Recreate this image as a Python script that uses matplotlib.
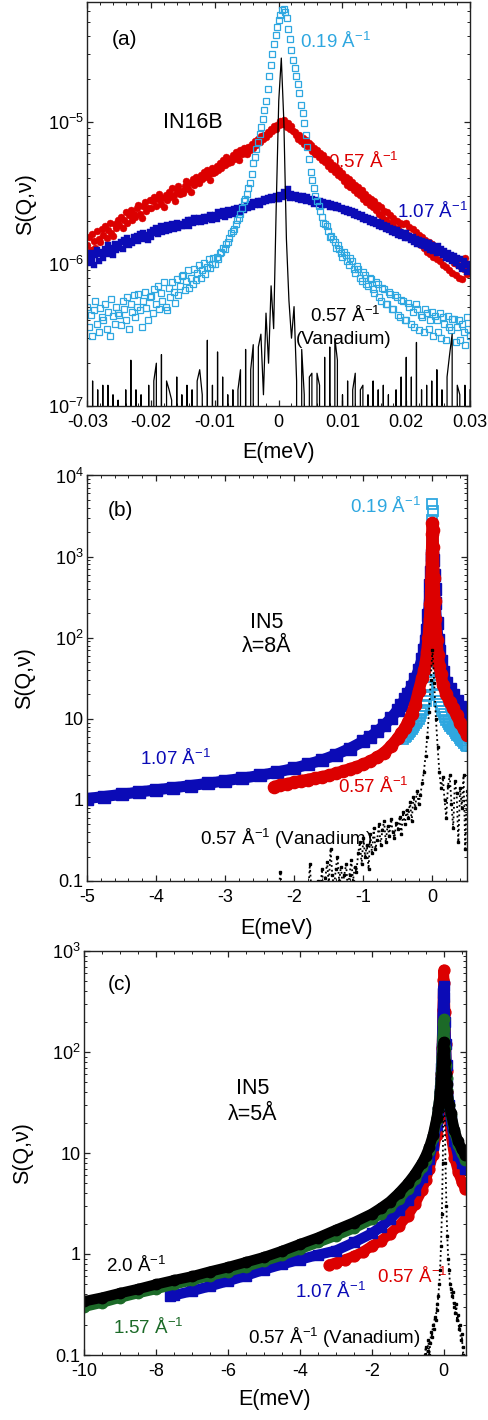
import numpy as np
import matplotlib
matplotlib.use("Agg")
import matplotlib.pyplot as plt
from matplotlib.ticker import MultipleLocator, LogLocator, FuncFormatter, NullFormatter

plt.rcParams['font.family'] = ['Liberation Sans', 'DejaVu Sans']
plt.rcParams['mathtext.fontset'] = 'custom'
plt.rcParams['mathtext.rm'] = 'Liberation Sans'
plt.rcParams['mathtext.it'] = 'Liberation Sans:italic'
plt.rcParams['mathtext.bf'] = 'Liberation Sans:bold'
plt.rcParams['axes.unicode_minus'] = False

# ---------------- (a) IN16B, S(Q,nu) in units of 1e-6 ----------------
E_a = np.linspace(-0.03, 0.03, 241)          # energy channels (meV)
E_a_van = np.linspace(-0.03, 0.03, 151)      # vanadium channels (meV)

a_q019 = [0.50, 0.36, 0.44, 0.31, 0.47, 0.55, 0.38, 0.33, 0.49, 0.42,
          0.40, 0.52, 0.35, 0.46, 0.31, 0.57, 0.43, 0.38, 0.50, 0.45,
          0.44, 0.37, 0.55, 0.48, 0.40, 0.58, 0.35, 0.52, 0.46, 0.60,
          0.42, 0.50, 0.61, 0.47, 0.36, 0.55, 0.63, 0.49, 0.40, 0.58,
          0.59, 0.45, 0.66, 0.52, 0.70, 0.48, 0.62, 0.55, 0.74, 0.50,
          0.47, 0.68, 0.58, 0.75, 0.63, 0.53, 0.78, 0.60, 0.70, 0.82,
          0.84, 0.65, 0.76, 0.90, 0.68, 0.80, 0.72, 0.92, 0.77, 0.86,
          0.98, 0.80, 0.90, 1.02, 0.85, 0.95, 1.08, 0.93, 1.00, 1.10,
          1.00, 1.12, 1.08, 1.20, 1.22, 1.30, 1.28, 1.38, 1.42, 1.52,
          1.65, 1.70, 1.76, 1.90, 2.05, 2.10, 2.25, 2.45, 2.75, 2.85,
          3.1, 3.4, 3.7, 4.3, 5.1, 5.6, 6.4, 7.2, 8.2, 9.2,
          10.5, 12, 14, 17, 21, 25, 30, 35, 41, 46,
          52, 56, 61, 62, 59, 54, 45, 38, 32, 27,
          24, 21, 18.5, 16, 13, 11.5, 9.8, 8, 6.6, 5.5,
          4.4, 3.9, 3.4, 3.0, 2.75, 2.55, 2.35, 2.15, 1.95, 1.90,
          1.85, 1.70, 1.55, 1.58, 1.50, 1.42, 1.30, 1.36, 1.28, 1.20,
          1.12, 1.22, 1.15, 1.05, 0.98, 1.10, 1.05, 0.92, 0.86, 0.97,
          0.92, 0.80, 0.76, 0.88, 0.84, 0.72, 0.70, 0.80, 0.78, 0.66,
          0.62, 0.74, 0.72, 0.58, 0.55, 0.68, 0.66, 0.52, 0.52, 0.63,
          0.61, 0.48, 0.48, 0.60, 0.58, 0.44, 0.42, 0.56, 0.55, 0.40,
          0.40, 0.53, 0.50, 0.38, 0.46, 0.36, 0.52, 0.48, 0.34, 0.44,
          0.42, 0.33, 0.48, 0.45, 0.35, 0.40, 0.46, 0.31, 0.43, 0.40,
          0.33, 0.45, 0.30, 0.42, 0.38, 0.29, 0.43, 0.36, 0.34, 0.41,
          0.41, 0.28, 0.36, 0.40, 0.29, 0.38, 0.33, 0.27, 0.42, 0.35,
          0.31]

a_q057 = [1.35, 1.55, 1.25, 1.62, 1.45, 1.30, 1.70, 1.50, 1.42, 1.75,
          1.60, 1.85, 1.52, 1.72, 1.95, 1.65, 1.58, 1.90, 1.78, 2.05,
          1.88, 2.15, 1.80, 2.05, 2.30, 1.95, 2.20, 2.40, 2.02, 2.25,
          2.15, 2.45, 2.60, 2.25, 2.10, 2.55, 2.70, 2.35, 2.48, 2.80,
          2.45, 2.75, 2.95, 2.55, 2.85, 3.10, 2.65, 2.90, 2.50, 3.05,
          2.80, 3.20, 2.95, 3.40, 3.05, 2.75, 3.30, 3.50, 3.10, 3.25,
          3.15, 3.55, 3.85, 3.35, 3.70, 3.20, 3.95, 3.60, 4.10, 3.75,
          3.70, 4.20, 3.95, 4.45, 4.05, 4.60, 4.25, 3.90, 4.70, 4.35,
          4.40, 4.90, 4.60, 5.15, 4.75, 5.40, 4.95, 5.60, 5.10, 5.45,
          5.20, 5.80, 5.45, 6.10, 5.65, 5.40, 6.30, 5.90, 6.55, 6.05,
          5.90, 6.60, 6.35, 7.00, 6.55, 7.30, 6.90, 7.60, 7.20, 7.95,
          7.50, 8.10, 7.80, 8.50, 8.20, 8.90, 8.60, 9.30, 8.90, 9.50,
          9.40, 10.1, 9.70, 10.3, 9.60, 9.20, 9.80, 8.90, 9.30, 8.60,
          8.40, 8.00, 7.60, 8.10, 7.30, 7.70, 7.00, 7.40, 6.70, 7.10,
          6.80, 6.20, 6.50, 5.90, 6.30, 5.60, 6.00, 5.40, 5.80, 5.20,
          5.50, 4.90, 5.20, 4.65, 4.95, 4.40, 4.80, 4.20, 4.55, 4.10,
          4.35, 3.85, 4.10, 3.60, 3.95, 3.45, 3.75, 3.30, 3.60, 3.15,
          3.45, 3.05, 3.30, 2.85, 3.10, 2.70, 2.95, 2.60, 2.85, 2.50,
          2.75, 2.40, 2.60, 2.25, 2.50, 2.15, 2.35, 2.05, 2.30, 1.95,
          2.20, 1.90, 2.10, 1.80, 2.00, 1.75, 1.95, 1.68, 1.90, 1.62,
          1.95, 1.60, 1.82, 1.52, 1.75, 1.45, 1.68, 1.40, 1.60, 1.35,
          1.55, 1.30, 1.48, 1.22, 1.42, 1.18, 1.38, 1.12, 1.32, 1.08,
          1.28, 1.05, 1.22, 0.98, 1.18, 0.95, 1.12, 0.90, 1.08, 0.86,
          1.02, 0.84, 1.00, 0.80, 0.96, 0.78, 0.92, 1.10, 0.85, 0.95,
          0.88]

a_q107 = [1.12, 1.02, 1.20, 1.08, 0.98, 1.15, 1.25, 1.05, 1.18, 1.22,
          1.10, 1.28, 1.18, 1.35, 1.20, 1.30, 1.15, 1.38, 1.25, 1.32,
          1.30, 1.42, 1.28, 1.48, 1.38, 1.52, 1.35, 1.45, 1.40, 1.55,
          1.46, 1.58, 1.44, 1.62, 1.50, 1.66, 1.52, 1.60, 1.48, 1.68,
          1.55, 1.72, 1.66, 1.80, 1.62, 1.75, 1.85, 1.68, 1.78, 1.70,
          1.88, 1.72, 1.82, 1.92, 1.76, 1.86, 1.95, 1.80, 1.90, 1.84,
          1.84, 1.98, 1.90, 2.05, 1.86, 2.02, 1.94, 2.10, 1.96, 2.04,
          2.10, 1.98, 2.05, 2.15, 2.00, 2.12, 2.08, 2.20, 2.02, 2.16,
          2.20, 2.08, 2.30, 2.18, 2.25, 2.35, 2.15, 2.28, 2.38, 2.22,
          2.35, 2.25, 2.42, 2.30, 2.48, 2.38, 2.32, 2.50, 2.40, 2.46,
          2.55, 2.45, 2.62, 2.50, 2.70, 2.58, 2.66, 2.75, 2.60, 2.78,
          2.70, 2.85, 2.75, 2.92, 2.80, 2.95, 2.82, 2.90, 3.00, 2.86,
          2.88, 3.05, 2.95, 3.20, 2.98, 3.10, 3.35, 2.92, 3.08, 3.00,
          2.92, 3.05, 2.85, 2.98, 2.80, 3.02, 2.88, 2.78, 2.95, 2.82,
          2.72, 2.85, 2.65, 2.80, 2.70, 2.62, 2.78, 2.58, 2.72, 2.64,
          2.60, 2.68, 2.52, 2.62, 2.50, 2.58, 2.45, 2.55, 2.48, 2.42,
          2.48, 2.36, 2.42, 2.30, 2.40, 2.28, 2.35, 2.22, 2.30, 2.18,
          2.25, 2.12, 2.20, 2.08, 2.15, 2.02, 2.10, 1.98, 2.06, 1.95,
          2.05, 1.92, 1.98, 1.86, 1.94, 1.82, 1.88, 1.76, 1.84, 1.72,
          1.80, 1.68, 1.76, 1.64, 1.72, 1.60, 1.68, 1.56, 1.64, 1.52,
          1.64, 1.52, 1.58, 1.46, 1.55, 1.42, 1.50, 1.38, 1.47, 1.35,
          1.45, 1.34, 1.42, 1.30, 1.40, 1.26, 1.36, 1.24, 1.32, 1.20,
          1.34, 1.22, 1.28, 1.15, 1.24, 1.10, 1.20, 1.08, 1.16, 1.04,
          1.14, 1.02, 1.10, 0.96, 1.08, 0.92, 1.04, 0.98, 0.88, 1.00,
          0.95]

a_van = [0, 0, 0.15, 0, 0.13, 0, 0.14, 0, 0.14, 0,
         0.12, 0, 0.11, 0, 0, 0.13, 0, 0.21, 0, 0.13,
         0, 0.12, 0, 0, 0.14, 0, 0.15, 0.20, 0, 0.23,
         0, 0.15, 0.13, 0.11, 0, 0.16, 0, 0.12, 0, 0.14,
         0, 0.13, 0, 0.15, 0.18, 0.12, 0, 0.29, 0, 0.14,
         0, 0.24, 0, 0.16, 0, 0.12, 0, 0.13, 0, 0.13,
         0.18, 0, 0.25, 0, 0.18, 0.27, 0, 0.26, 0.32, 0.12,
         0.45, 0.20, 0.70, 0.35, 2.5, 14, 28, 10, 1.5, 0.55,
         0.30, 0.50, 0.15, 0, 0.25, 0.12, 0, 0.16, 0.17, 0,
         0.17, 0.14, 0, 0.22, 0, 0.26, 0, 0.30, 0.21, 0,
         0.12, 0, 0.15, 0, 0.13, 0.17, 0, 0.13, 0.14, 0,
         0.12, 0, 0.15, 0, 0.13, 0, 0.14, 0, 0.12, 0,
         0, 0.13, 0, 0.16, 0, 0.22, 0, 0.16, 0, 0.28,
         0, 0.13, 0, 0.14, 0, 0.15, 0, 0.18, 0, 0.13,
         0, 0.16, 0.23, 0.32, 0, 0.14, 0.12, 0, 0.14, 0,
         0.13]

# ---------------- (b) IN5, lambda = 8 A ----------------
b_q107_E = [-5.0, -4.75, -4.5, -4.25, -4.0, -3.75, -3.5, -3.25, -3.0, -2.75, -2.5, -2.25,
            -2.0, -1.8, -1.6, -1.4, -1.2, -1.0, -0.9, -0.8, -0.7, -0.6, -0.5, -0.45, -0.4,
            -0.35, -0.3, -0.25, -0.2, -0.15, -0.12, -0.1, -0.08, -0.06, -0.04, -0.03, -0.02,
            -0.01, 0.0, 0.01, 0.02, 0.03, 0.04, 0.06, 0.08, 0.1, 0.12, 0.15, 0.2, 0.25, 0.3,
            0.35, 0.4, 0.45, 0.5]
b_q107_S = [1.04, 1.10, 1.17, 1.25, 1.33, 1.41, 1.50, 1.60, 1.72, 1.85, 2.0, 2.2,
            2.45, 2.75, 3.1, 3.6, 4.3, 5.3, 6.0, 7.0, 8.3, 10.2, 13, 15, 17.5,
            20.5, 25, 31, 40, 55, 70, 90, 125, 190, 320, 450, 650,
            900, 1050, 900, 600, 400, 270, 150, 95, 68, 52, 38, 28, 23, 19.5,
            16.5, 14, 12, 10]

b_q057_E = [-2.3, -2.2, -2.1, -2.0, -1.9, -1.8, -1.7, -1.6, -1.5, -1.4, -1.3, -1.2, -1.1,
            -1.0, -0.9, -0.8, -0.7, -0.6, -0.5, -0.45, -0.4, -0.35, -0.3, -0.25, -0.2,
            -0.15, -0.12, -0.1, -0.08, -0.06, -0.04, -0.03, -0.02, -0.01, -0.005, 0.0,
            0.005, 0.01, 0.02, 0.03, 0.04, 0.06, 0.08, 0.1, 0.12, 0.15, 0.2, 0.25, 0.3,
            0.35, 0.4, 0.45, 0.5]
b_q057_S = [1.45, 1.52, 1.58, 1.65, 1.72, 1.78, 1.85, 1.92, 2.0, 2.12, 2.25, 2.4, 2.55,
            2.75, 3.0, 3.35, 3.8, 4.6, 5.8, 6.6, 7.7, 9.2, 11.5, 15, 22,
            32, 40, 50, 66, 98, 170, 260, 500, 1100, 1900, 2600,
            2100, 1300, 550, 280, 170, 95, 62, 45, 36, 26, 20, 16, 13.5,
            11, 9, 7.5, 6.3]

b_q019_E = [-0.42, -0.40, -0.38, -0.36, -0.34, -0.32, -0.30, -0.28, -0.26, -0.24, -0.22,
            -0.20, -0.18, -0.16, -0.14, -0.12, -0.10, -0.08, -0.06, -0.04, -0.03, -0.02,
            -0.01, -0.005, 0.0, 0.005, 0.01, 0.02, 0.03, 0.04, 0.06, 0.08, 0.10, 0.12,
            0.14, 0.16, 0.18, 0.20, 0.22, 0.24, 0.26, 0.28, 0.30, 0.32, 0.34, 0.36, 0.38,
            0.40, 0.42, 0.44, 0.46, 0.48, 0.50]
b_q019_S = [5.6, 6.0, 6.2, 6.5, 6.8, 7.1, 7.5, 7.9, 8.3, 8.8, 9.4,
            10, 10.8, 11.8, 13, 14.5, 16.5, 19.5, 25, 38, 55, 110,
            1500, 2800, 4400, 3600, 1800, 120, 60, 40, 26, 20, 16.5, 14,
            12.5, 11.5, 10.6, 9.8, 9.1, 8.6, 8.1, 7.7, 7.4, 7.0, 6.7, 6.4, 6.1,
            5.8, 5.5, 5.3, 5.1, 4.8, 4.6]

E_b_van = np.linspace(-2.4, 0.5, 117)
b_van = [0.05, 0.06, 0.05, 0.07, 0.05, 0.06, 0.05, 0.08, 0.13, 0.06, 0.05, 0.07, 0.05, 0.06, 0.09, 0.05,
         0.06, 0.05, 0.08, 0.06, 0.05, 0.07, 0.05, 0.09, 0.06, 0.16, 0.07, 0.05, 0.08, 0.06, 0.10, 0.07,
         0.14, 0.08, 0.11, 0.17, 0.09, 0.25, 0.12, 0.08, 0.14, 0.20, 0.10, 0.15, 0.09, 0.12, 0.16, 0.08,
         0.12, 0.18, 0.10, 0.15, 0.13, 0.22, 0.30, 0.16, 0.34, 0.20, 0.28, 0.14, 0.38, 0.22, 0.45, 0.25,
         0.32, 0.50, 0.28, 0.42, 0.55, 0.30, 0.48, 0.36, 0.58, 0.40, 0.34, 0.52, 0.44, 0.62, 0.38, 0.70,
         0.50, 0.75, 0.60, 0.95, 0.55, 1.10, 0.80, 1.30, 0.90, 1.15, 1.6, 2.2, 3.5, 6.0, 12, 30,
         70,
         28, 10, 4.5, 2.2, 1.4, 1.9, 1.0, 0.6, 1.5, 2.0, 0.9, 0.45, 1.7, 1.2, 0.3, 1.4, 0.8, 2.0, 0.25, 1.3]

# ---------------- (c) IN5, lambda = 5 A ----------------
c_q200_E = [-10, -9.5, -9, -8.5, -8, -7.5, -7, -6.5, -6, -5.5, -5, -4.5, -4, -3.5, -3, -2.5,
            -2, -1.75, -1.5, -1.25, -1, -0.8, -0.6, -0.5, -0.4, -0.3, -0.2, -0.15, -0.1,
            -0.07, -0.05, -0.03, -0.01, 0, 0.02, 0.04, 0.06, 0.08, 0.1, 0.15, 0.2, 0.3,
            0.4, 0.5, 0.6]
c_q200_S = [0.34, 0.37, 0.41, 0.45, 0.50, 0.55, 0.60, 0.67, 0.74, 0.83, 0.93, 1.07, 1.25, 1.45,
            1.73, 2.05, 2.5, 2.85, 3.3, 4.0, 5.0, 6.2, 8.0, 9.4, 11.5, 15, 22, 28, 40,
            55, 70, 95, 115, 125, 105, 80, 60, 48, 40, 30, 25, 17, 13, 11, 9.5]

c_q157_E = c_q200_E
c_q157_S = [0.30, 0.33, 0.37, 0.41, 0.45, 0.50, 0.55, 0.61, 0.67, 0.75, 0.85, 0.97, 1.12, 1.3,
            1.52, 1.8, 2.2, 2.5, 2.9, 3.5, 4.4, 5.5, 7.2, 8.5, 10.5, 14, 21, 28, 42,
            62, 90, 140, 190, 210, 170, 110, 75, 55, 42, 30, 24, 16, 12, 10, 8.5]

c_q107_E = [-7.6, -7.5, -7, -6.5, -6, -5.5, -5, -4.5, -4, -3.5, -3, -2.5, -2, -1.75, -1.5,
            -1.25, -1, -0.8, -0.6, -0.5, -0.4, -0.3, -0.2, -0.15, -0.1, -0.07, -0.05, -0.03,
            -0.01, 0, 0.02, 0.04, 0.06, 0.08, 0.1, 0.15, 0.2, 0.3, 0.4, 0.5, 0.6]
c_q107_S = [0.385, 0.39, 0.43, 0.48, 0.54, 0.61, 0.70, 0.79, 0.88, 0.98, 1.08, 1.3, 1.6, 1.85,
            2.2, 2.7, 3.4, 4.3, 5.8, 7.0, 8.8, 12, 19, 26, 42, 70, 110, 220,
            380, 450, 350, 200, 120, 75, 50, 30, 21, 13, 9.5, 8, 7]

c_q057_E = [-3.2, -3.0, -2.75, -2.5, -2.25, -2.0, -1.75, -1.5, -1.25, -1.0, -0.8, -0.6, -0.5,
            -0.4, -0.3, -0.2, -0.15, -0.1, -0.07, -0.05, -0.03, -0.01, 0, 0.02, 0.04, 0.06,
            0.08, 0.1, 0.15, 0.2, 0.3, 0.4, 0.5, 0.6]
c_q057_S = [0.78, 0.82, 0.88, 0.95, 1.05, 1.2, 1.35, 1.58, 1.9, 2.4, 3.1, 4.3, 5.4,
            7.0, 9.5, 15, 21, 35, 60, 110, 260, 520, 650, 480, 250, 120,
            65, 40, 22, 15, 9, 6.5, 5.2, 4.4]

E_c_van = np.linspace(-0.7, 0.6, 53)
c_van = [0.05, 0.06, 0.05, 0.07, 0.06, 0.08, 0.07, 0.10,
         0.12, 0.09, 0.11, 0.14, 0.10, 0.13, 0.17, 0.15,
         0.20, 0.18, 0.24, 0.22, 0.28, 0.32, 0.38, 0.50,
         0.70, 1.2, 2.5, 8, 100, 30, 8, 3,
         1.5, 0.9, 0.7, 0.5, 0.45, 0.38, 0.42, 0.33,
         0.3, 0.26, 0.32, 0.22, 0.25, 0.18, 0.2, 0.14,
         0.16, 0.12, 0.1, 0.08, 0.06]

# ---------------- colours ----------------
LBLUE = '#2ea7e0'
RED = '#dc0000'
BLUE = '#0b0bb6'
GREEN = '#1c6a28'
BLACK = '#000000'

W, H = 489, 1420
fig = plt.figure(figsize=(W / 100, H / 100), dpi=100)


def box(l, t, r, b):
    return [l / W, 1 - b / H, (r - l) / W, (b - t) / H]


def put(x, y, s, color=BLACK, size=13.5, ha='left'):
    fig.text(x / W, 1 - y / H, s, color=color, fontsize=size, ha=ha, va='baseline')


def ylab_fmt(v, pos):
    e = int(round(np.log10(v)))
    if -1 <= e <= 1:
        return '%g' % v
    return r'$10^{%d}$' % e


def style(ax, xmaj, xmin):
    for s in ax.spines.values():
        s.set_linewidth(1.0)
        s.set_color('#222222')
    ax.set_yscale('log')
    ax.xaxis.set_major_locator(MultipleLocator(xmaj))
    ax.xaxis.set_minor_locator(MultipleLocator(xmin))
    ax.xaxis.set_major_formatter(FuncFormatter(lambda v, p: '%g' % round(v, 6)))
    ax.yaxis.set_major_locator(LogLocator(base=10, numticks=20))
    ax.yaxis.set_minor_locator(LogLocator(base=10, subs=np.arange(2, 10), numticks=100))
    ax.yaxis.set_major_formatter(FuncFormatter(ylab_fmt))
    ax.yaxis.set_minor_formatter(NullFormatter())
    ax.tick_params(which='both', direction='in', top=True, right=True,
                   color='#222222', labelsize=13)
    ax.tick_params(which='major', length=4.5, width=0.9)
    ax.tick_params(which='minor', length=2.5, width=0.7)
    ax.tick_params(axis='x', pad=6)
    ax.tick_params(axis='y', pad=2.5)


def labels(ax, xl_y, yl_x):
    ax.set_xlabel('E(meV)', fontsize=15.5)
    ax.xaxis.set_label_coords(0.5, xl_y)
    ax.xaxis.label.set_va('center')
    ax.set_ylabel('S(Q,ν)', fontsize=15.5)
    ax.yaxis.set_label_coords(yl_x, 0.5)
    ax.yaxis.label.set_va('center')
    ax.yaxis.label.set_ha('center')


# ================= panel (a) =================
axA = fig.add_axes(box(87.5, 1.5, 470, 406))
style(axA, 0.01, 0.002)
axA.plot(E_a, np.array(a_q057) * 1e-6, 'o', color=RED, ms=5.0, mec=RED, mew=0.3)
axA.plot(E_a, np.array(a_q107) * 1e-6, 's', color=BLUE, ms=4.6, mec=BLUE, mew=0.3)
axA.plot(E_a, np.array(a_q019) * 1e-6, 's', ms=4.0, mfc='none', mec=LBLUE, mew=0.9)
axA.plot(E_a_van, np.array(a_van) * 1e-6, '-', color=BLACK, lw=0.9)
axA.set_xlim(-0.03, 0.03)
axA.set_ylim(1e-7, 7e-5)
labels(axA, (406 - 452) / 404.5, (26 - 87.5) / 382.5)

put(112, 45, '(a)', size=15)
put(300, 48, r'0.19 Å$^{-1}$', color=LBLUE)
put(163, 128, 'IN16B', size=15.5)
put(328, 168, r'0.57 Å$^{-1}$', color=RED)
put(397, 218, r'1.07 Å$^{-1}$', color=BLUE)
put(310, 322, r'0.57 Å$^{-1}$')
put(296, 344, '(Vanadium)')

# ================= panel (b) =================
axB = fig.add_axes(box(87, 475.5, 467, 881))
style(axB, 1, 0.2)
axB.plot(b_q107_E, b_q107_S, '-s', color=BLUE, ms=8.0, mec=BLUE,
         lw=8.0, solid_capstyle='butt', solid_joinstyle='round')
axB.plot(b_q019_E, b_q019_S, 's', ms=7.0, mfc='none', mec=LBLUE, mew=1.3)
axB.plot(b_q057_E, b_q057_S, '-o', color=RED, ms=8.8, mec=RED,
         lw=8.5, solid_capstyle='butt', solid_joinstyle='round')
axB.plot(E_b_van, b_van, ':', color=BLACK, lw=1.3, marker='s', ms=1.6)
axB.set_xlim(-5, 0.5)
axB.set_ylim(0.1, 1e4)
labels(axB, (881 - 929) / 405.5, (25 - 87) / 380)

put(108, 516, '(b)', size=15)
put(350, 513, r'0.19 Å$^{-1}$', color=LBLUE)
put(267, 628, 'IN5', size=15.5, ha='center')
put(267, 652, 'λ=8Å', size=15.5, ha='center')
put(140, 765, r'1.07 Å$^{-1}$', color=BLUE)
put(338, 793, r'0.57 Å$^{-1}$', color=RED)
put(200, 845, r'0.57 Å$^{-1}$ (Vanadium)')

# ================= panel (c) =================
axC = fig.add_axes(box(84, 951, 466, 1355))
style(axC, 2, 0.5)
band = dict(lw=7.5, solid_capstyle='butt', solid_joinstyle='round')
axC.plot(c_q057_E, c_q057_S, '-o', color=RED, ms=7.8, mec=RED, **band)
axC.plot(c_q107_E, c_q107_S, '-s', color=BLUE, ms=7.2, mec=BLUE, **band)
axC.plot(c_q157_E, c_q157_S, '-o', color=GREEN, ms=7.5, mec=GREEN, **band)
axC.plot(c_q200_E, c_q200_S, '-o', color=BLACK, ms=7.5, mec=BLACK, **band)
axC.plot(E_c_van, c_van, ':', color=BLACK, lw=1.3, marker='s', ms=1.6)
axC.set_xlim(-10, 0.62)
axC.set_ylim(0.1, 1e3)
labels(axC, (1355 - 1400) / 404, (23 - 84) / 382)

put(108, 990, '(c)', size=15)
put(253, 1094, 'IN5', size=15.5, ha='center')
put(253, 1120, 'λ=5Å', size=15.5, ha='center')
put(106, 1272, r'2.0 Å$^{-1}$')
put(113, 1334, r'1.57 Å$^{-1}$', color=GREEN)
put(295, 1298, r'1.07 Å$^{-1}$', color=BLUE)
put(377, 1283, r'0.57 Å$^{-1}$', color=RED)
put(248, 1344, r'0.57 Å$^{-1}$ (Vanadium)')

fig.savefig('out.png', dpi=100)
